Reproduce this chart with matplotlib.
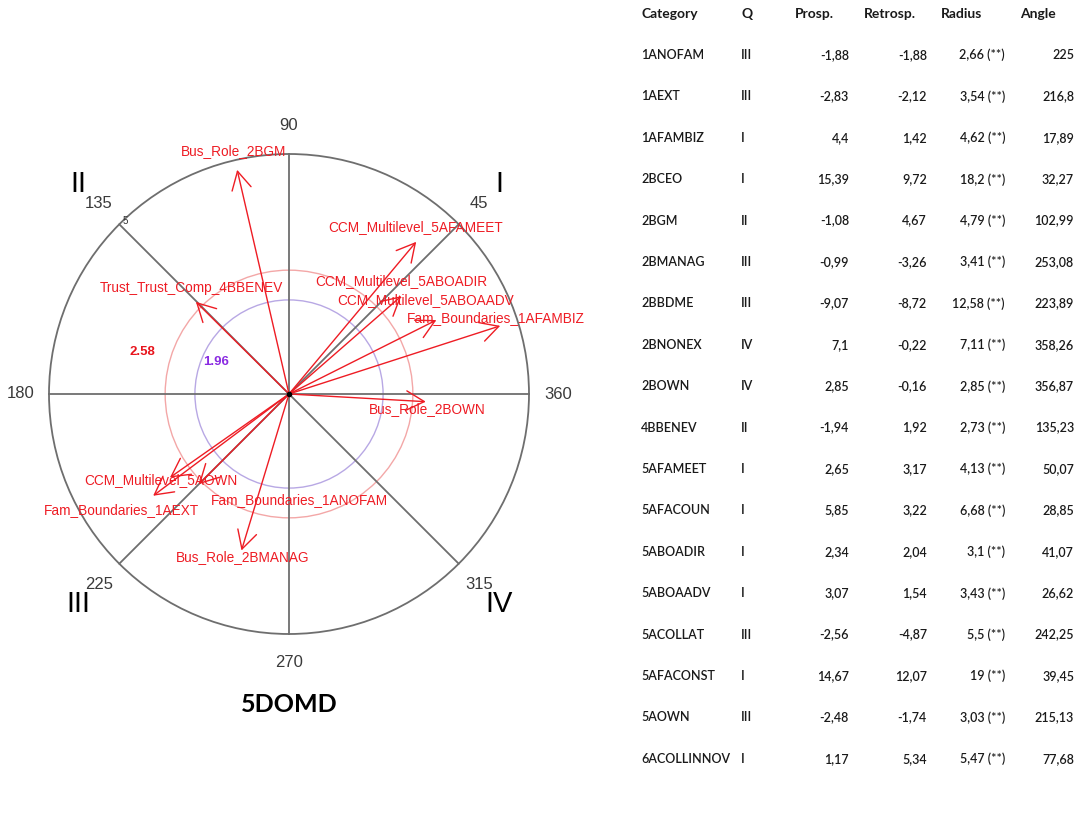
import numpy as np
import matplotlib
matplotlib.use("Agg")
import matplotlib.pyplot as plt
from matplotlib.patches import Circle

# ---------------- data ----------------
categories = ["1ANOFAM", "1AEXT", "1AFAMBIZ", "2BCEO", "2BGM", "2BMANAG", "2BBDME",
              "2BNONEX", "2BOWN", "4BBENEV", "5AFAMEET", "5AFACOUN", "5ABOADIR",
              "5ABOAADV", "5ACOLLAT", "5AFACONST", "5AOWN", "6ACOLLINNOV"]
quadrant = ["III", "III", "I", "I", "II", "III", "III", "IV", "IV", "II", "I", "I",
            "I", "I", "III", "I", "III", "I"]
prosp = [-1.88, -2.83, 4.4, 15.39, -1.08, -0.99, -9.07, 7.1, 2.85, -1.94, 2.65, 5.85,
         2.34, 3.07, -2.56, 14.67, -2.48, 1.17]
retrosp = [-1.88, -2.12, 1.42, 9.72, 4.67, -3.26, -8.72, -0.22, -0.16, 1.92, 3.17, 3.22,
           2.04, 1.54, -4.87, 12.07, -1.74, 5.34]
radius = [2.66, 3.54, 4.62, 18.2, 4.79, 3.41, 12.58, 7.11, 2.85, 2.73, 4.13, 6.68,
          3.1, 3.43, 5.5, 19, 3.03, 5.47]
angle = [225, 216.8, 17.89, 32.27, 102.99, 253.08, 223.89, 358.26, 356.87, 135.23,
         50.07, 28.85, 41.07, 26.62, 242.25, 39.45, 215.13, 77.68]
prefixes = {"1A": "Fam_Boundaries_", "2B": "Bus_Role_", "4B": "Trust_Trust_Comp_",
            "5A": "CCM_Multilevel_", "6A": "CCM_Multilevel_"}
circle_max = 5
sig_levels = [2.58, 1.96]
axis_angles = [0, 45, 90, 135, 180, 225, 270, 315]
angle_tick_labels = ["360", "45", "90", "135", "180", "225", "270", "315"]
quad_labels = ["I", "II", "III", "IV"]
quad_angles = [45, 135, 225, 315]
title = "5DOMD"
headers = ["Category", "Q", "Prosp.", "Retrosp.", "Radius", "Angle"]

def fmt(v):
    s = ("%g" % v)
    return s.replace(".", ",")

# ---------------- layout ----------------
W, H, DPI = 1084, 814, 100
PX = 48.0            # pixels per data unit in diagram
CX, CY = 289, 394    # centre pixel of diagram
# label offsets in pixels (dx right, dy up) relative to arrow tip
label_off = {"1ANOFAM": (101, -16), "1AEXT": (-32, -14), "1AFAMBIZ": (-4, 8),
             "2BGM": (-4, 19), "2BMANAG": (1, -7), "2BOWN": (1, -7),
             "4BBENEV": (-4, 14), "5AFAMEET": (-1, 15), "5ABOADIR": (0, 15),
             "5ABOAADV": (-11, 20), "5AOWN": (-9, -2)}

fig = plt.figure(figsize=(W / DPI, H / DPI), dpi=DPI)
fig.patch.set_facecolor("white")

axw = 600
ax = fig.add_axes([0, 0, axw / W, 1])
ax.set_xlim(-CX / PX, (axw - CX) / PX)
ax.set_ylim(-(H - CY) / PX, CY / PX)
ax.axis("off")

grey = "#6e6e6e"
# outer circle
ax.add_patch(Circle((0, 0), circle_max, fill=False, ec=grey, lw=1.3, zorder=1))
# significance circles
ax.add_patch(Circle((0, 0), sig_levels[0], fill=False, ec="#f3a7a7", lw=1.0, zorder=1))
ax.add_patch(Circle((0, 0), sig_levels[1], fill=False, ec="#b8a8e4", lw=1.0, zorder=1))
# axis lines
for a in axis_angles:
    t = np.deg2rad(a)
    ax.plot([0, circle_max * np.cos(t)], [0, circle_max * np.sin(t)], color=grey, lw=1.3, zorder=2)

# angle labels
for a, lab in zip(axis_angles, angle_tick_labels):
    t = np.deg2rad(a)
    r = 5.6
    ax.text(r * np.cos(t), r * np.sin(t), lab, ha="center", va="center", fontsize=12,
            color="#3a3a3a", family="Liberation Sans")
# quadrant labels
for a, lab in zip(quad_angles, quad_labels):
    t = np.deg2rad(a)
    r = 6.2
    ax.text(r * np.cos(t), r * np.sin(t), lab, ha="center", va="center", fontsize=21,
            color="black", family="Liberation Sans")
# small circle label
t = np.deg2rad(135)
ax.text(circle_max * np.cos(t) + 0.12, circle_max * np.sin(t) + 0.07, str(circle_max),
        ha="center", va="center", fontsize=7, color="#333333", family="Liberation Sans")
# significance labels
ax.text(-3.06, 0.875, "%.2f" % sig_levels[0], color="#e8141c", fontsize=9.5,
        fontweight="bold", ha="center", va="center", family="Liberation Sans")
ax.text(-1.52, 0.67, "%.2f" % sig_levels[1], color="#8a2be2", fontsize=9.5,
        fontweight="bold", ha="center", va="center", family="Liberation Sans")

# arrows
red = "#ee1c24"
for cat, x, y, r in zip(categories, prosp, retrosp, radius):
    if r > circle_max:
        continue
    ax.annotate("", xy=(x, y), xytext=(0, 0),
                arrowprops=dict(arrowstyle="->,head_length=1.3,head_width=0.7",
                                color=red, lw=1.0, shrinkA=0, shrinkB=0), zorder=3)
    dx, dy = label_off.get(cat, (0, 10))
    ax.annotate(prefixes[cat[:2]] + cat, xy=(x, y), xytext=(dx * 72 / DPI, dy * 72 / DPI),
                textcoords="offset points", ha="center", va="center", color=red,
                fontsize=9.8, family="Liberation Sans", zorder=4)
ax.plot([0], [0], "o", color="black", ms=3, zorder=5)

ax.text(0, -(705 - CY) / PX, title, ha="center", va="center", fontsize=18,
        fontweight="bold", family="Lato", color="black")

# ---------------- table ----------------
tx = fig.add_axes([axw / W, 0, (W - axw) / W, 1])
tx.set_xlim(axw, W)
tx.set_ylim(H, 0)
tx.axis("off")
col_x = [641, 741, 849, 927, 1005, 1074]
col_ha = ["left", "left", "right", "right", "right", "right"]
head_x = [641, 741, 814, 890, 962, 1038]
head_ha = ["left", "left", "center", "center", "center", "center"]
for hx, ha, h in zip(head_x, head_ha, headers):
    tx.text(hx, 14, h, ha=ha, va="center", fontweight="bold", family="Lato",
            fontsize=10, color="#1a1a1a")
y0, dy = 55, 41.4
for i, cat in enumerate(categories):
    y = y0 + i * dy
    vals = [cat, quadrant[i], fmt(prosp[i]), fmt(retrosp[i]), fmt(radius[i]) + " (**)",
            fmt(angle[i])]
    for cx_, ha, v in zip(col_x, col_ha, vals):
        tx.text(cx_, y, v, ha=ha, va="center", fontweight="semibold", family="Lato",
                fontsize=9, color="#1a1a1a")

fig.savefig("out.png", dpi=DPI)
